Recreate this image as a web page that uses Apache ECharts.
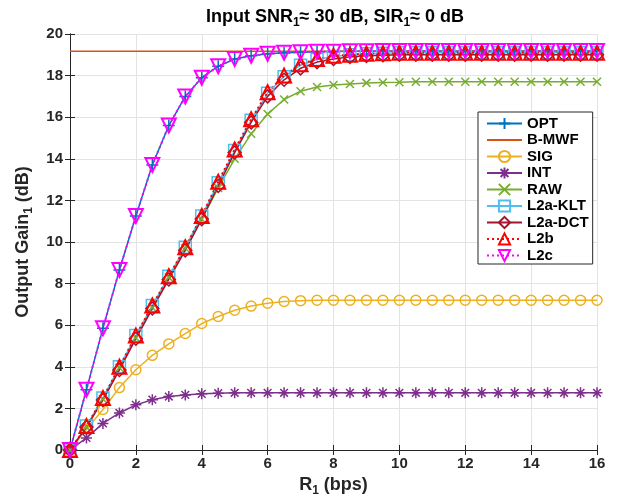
<!DOCTYPE html>
<html lang="en">
<head>
    <meta charset="UTF-8">
    <title>Output gain vs rate</title>
    <style>
        html, body { margin: 0; padding: 0; background: #fff; }
        #main { width: 620px; height: 497px; }
    </style>
    <script src="https://cdn.jsdelivr.net/npm/echarts@6/dist/echarts.min.js"></script>
</head>
<body>
    <div id="main"></div>
    <script type="text/javascript">
        // rate R1 (bps), sampled every 0.5
        var rates = [0, 0.5, 1, 1.5, 2, 2.5, 3, 3.5, 4, 4.5, 5, 5.5, 6, 6.5, 7, 7.5, 8,
                     8.5, 9, 9.5, 10, 10.5, 11, 11.5, 12, 12.5, 13, 13.5, 14, 14.5, 15, 15.5, 16];

        var optGain = [0, 2.9, 5.85, 8.65, 11.25, 13.7, 15.6, 17.0, 17.9, 18.45, 18.8, 18.95, 19.05, 19.1, 19.12, 19.15, 19.16,
                       19.17, 19.17, 19.18, 19.18, 19.18, 19.18, 19.18, 19.18, 19.18, 19.18, 19.18, 19.18, 19.18, 19.18, 19.18, 19.18];
        var bmwfX = [0, 16];
        var bmwfGain = [19.17, 19.17];
        var sigGain = [0, 1.0, 1.95, 3.0, 3.86, 4.55, 5.1, 5.6, 6.08, 6.42, 6.72, 6.92, 7.06, 7.14, 7.18, 7.2, 7.2,
                       7.2, 7.2, 7.2, 7.2, 7.2, 7.2, 7.2, 7.2, 7.2, 7.2, 7.2, 7.2, 7.2, 7.2, 7.2, 7.2];
        var intGain = [0, 0.58, 1.28, 1.78, 2.17, 2.42, 2.57, 2.65, 2.7, 2.73, 2.75, 2.75, 2.75, 2.75, 2.75, 2.75, 2.75,
                       2.75, 2.75, 2.75, 2.75, 2.75, 2.75, 2.75, 2.75, 2.75, 2.75, 2.75, 2.75, 2.75, 2.75, 2.75, 2.75];
        var rawGain = [0, 1.1, 2.45, 3.95, 5.4, 6.85, 8.3, 9.7, 11.1, 12.6, 14.0, 15.2, 16.15, 16.85, 17.25, 17.45, 17.55,
                       17.6, 17.65, 17.67, 17.68, 17.7, 17.7, 17.7, 17.7, 17.7, 17.7, 17.7, 17.7, 17.7, 17.7, 17.7, 17.7];
        var kltGain = [0, 1.15, 2.5, 4.0, 5.5, 6.95, 8.35, 9.75, 11.25, 12.85, 14.4, 15.85, 17.15, 17.95, 18.5, 18.78, 18.92,
                       19.0, 19.05, 19.08, 19.1, 19.1, 19.1, 19.1, 19.1, 19.1, 19.1, 19.1, 19.1, 19.1, 19.1, 19.1, 19.1];
        var dctGain = [0, 1.1, 2.4, 3.85, 5.35, 6.8, 8.2, 9.6, 11.1, 12.7, 14.3, 15.75, 17.0, 17.8, 18.35, 18.65, 18.8,
                       18.9, 18.95, 18.98, 19.0, 19.0, 19.0, 19.0, 19.0, 19.0, 19.0, 19.0, 19.0, 19.0, 19.0, 19.0, 19.0];
        var l2bGain = [0, 1.15, 2.5, 4.0, 5.5, 6.95, 8.35, 9.75, 11.25, 12.9, 14.45, 15.9, 17.2, 18.0, 18.55, 18.8, 18.95,
                       19.0, 19.05, 19.08, 19.1, 19.1, 19.1, 19.1, 19.1, 19.1, 19.1, 19.1, 19.1, 19.1, 19.1, 19.1, 19.1];
        var l2cGain = [0, 2.9, 5.85, 8.65, 11.25, 13.7, 15.6, 17.0, 17.9, 18.45, 18.8, 18.95, 19.05, 19.1, 19.12, 19.15, 19.15,
                       19.17, 19.17, 19.18, 19.18, 19.18, 19.18, 19.18, 19.18, 19.18, 19.18, 19.18, 19.18, 19.18, 19.18, 19.18, 19.18];

        var FONT = 'Liberation Sans';
        var INK = '#262626';

        function pairs(xs, ys) {
            return xs.map(function (x, i) { return [x, ys[i]]; });
        }

        function curve(name, ys, color, symbol, size, opts) {
            opts = opts || {};
            return {
                name: name,
                type: 'line',
                data: pairs(opts.xs || rates, ys),
                symbol: symbol,
                symbolSize: size,
                showSymbol: symbol !== 'none',
                lineStyle: { color: color, width: opts.width || 1.5, type: opts.dash || 'solid' },
                itemStyle: {
                    color: 'rgba(0,0,0,0)',
                    borderColor: symbol === 'none' ? 'rgba(0,0,0,0)' : color,
                    borderWidth: symbol === 'none' ? 0 : (opts.bw || 1.5)
                },
                emphasis: { disabled: true },
                animation: false
            };
        }

        var chart = echarts.init(document.getElementById('main'));

        var nameFont = { fontFamily: FONT, fontWeight: 'bold', fontSize: 18, color: INK };
        var sub = { fontFamily: FONT, fontWeight: 'bold', fontSize: 12, color: INK, padding: [12, 0, 0, 0] };

        chart.setOption({
            backgroundColor: '#fff',
            title: {
                text: '{b|Input SNR}{s|1}{b|≈ 30 dB, SIR}{s|1}{b|≈ 0 dB}',
                left: 330,
                textAlign: 'center',
                top: 0,
                textStyle: {
                    rich: {
                        b: { fontFamily: FONT, fontWeight: 'bold', fontSize: 18, color: '#000' },
                        s: { fontFamily: FONT, fontWeight: 'bold', fontSize: 12, color: '#000', padding: [12, 0, 0, 0] }
                    }
                }
            },
            grid: { left: 70, right: 23, top: 34, bottom: 47, containLabel: false, outerBoundsMode: 'none' },
            legend: {
                orient: 'vertical',
                left: 478,
                top: 112,
                padding: [4, 4, 1, 8],
                itemWidth: 35,
                itemHeight: 14,
                itemGap: 1.5,
                backgroundColor: '#fff',
                borderColor: INK,
                borderWidth: 1,
                borderRadius: 0,
                textStyle: { fontFamily: FONT, fontWeight: 'bold', fontSize: 15, lineHeight: 14, color: '#000' },
                data: ['OPT', 'B-MWF', 'SIG', 'INT', 'RAW', 'L2a-KLT', 'L2a-DCT', 'L2b', 'L2c']
            },
            xAxis: [{
                type: 'value', min: 0, max: 16, interval: 2,
                name: '{b|R}{s|1}{b| (bps)}', nameLocation: 'middle', nameGap: 23,
                nameTextStyle: { rich: { b: nameFont, s: sub } },
                axisLine: { lineStyle: { color: INK, width: 1 } },
                axisTick: { inside: true, length: 5, lineStyle: { color: INK } },
                axisLabel: { fontFamily: FONT, fontWeight: 'bold', fontSize: 15, color: INK, margin: 6 },
                splitLine: { lineStyle: { color: '#e3e3e3', width: 1 } }
            }, {
                type: 'value', min: 0, max: 16, interval: 2, position: 'top',
                axisLine: { lineStyle: { color: INK, width: 1 } },
                axisTick: { inside: true, length: 5, lineStyle: { color: INK } },
                axisLabel: { show: false },
                splitLine: { show: false }
            }],
            yAxis: [{
                type: 'value', min: 0, max: 20, interval: 2,
                name: '{b|Output Gain}{s|1}{b| (dB)}', nameLocation: 'middle', nameGap: 35,
                nameMoveOverlap: false,
                nameTextStyle: { rich: { b: nameFont, s: sub } },
                axisLine: { show: true, lineStyle: { color: INK, width: 1 } },
                axisTick: { show: true, inside: true, length: 5, lineStyle: { color: INK } },
                axisLabel: { fontFamily: FONT, fontWeight: 'bold', fontSize: 15, color: INK, margin: 7 },
                splitLine: { lineStyle: { color: '#e3e3e3', width: 1 } }
            }, {
                type: 'value', min: 0, max: 20, interval: 2, position: 'right',
                axisLine: { show: true, lineStyle: { color: INK, width: 1 } },
                axisTick: { show: true, inside: true, length: 5, lineStyle: { color: INK } },
                axisLabel: { show: false },
                splitLine: { show: false }
            }],
            series: [
                curve('OPT', optGain, '#0072BD', 'path://M0,6L12,6M6,0L6,12', 12),
                curve('B-MWF', bmwfGain, '#D95319', 'none', 0, { xs: bmwfX }),
                curve('SIG', sigGain, '#EDB120', 'circle', 10),
                curve('INT', intGain, '#7E2F8E', 'path://M6,0L6,12M0,6L12,6M1.8,1.8L10.2,10.2M10.2,1.8L1.8,10.2', 11),
                curve('RAW', rawGain, '#77AC30', 'path://M0,0L10,10M10,0L0,10', 8),
                curve('L2a-KLT', kltGain, '#4DBEEE', 'rect', 12),
                curve('L2a-DCT', dctGain, '#A2142F', 'diamond', 13),
                curve('L2b', l2bGain, '#FF0000', 'triangle', 14, { dash: [2, 3], width: 2, bw: 2 }),
                curve('L2c', l2cGain, '#FF00FF', 'path://M0,0L12,0L6,10Z', 14, { dash: [2, 3], width: 2, bw: 2 })
            ]
        });
    </script>
</body>
</html>
